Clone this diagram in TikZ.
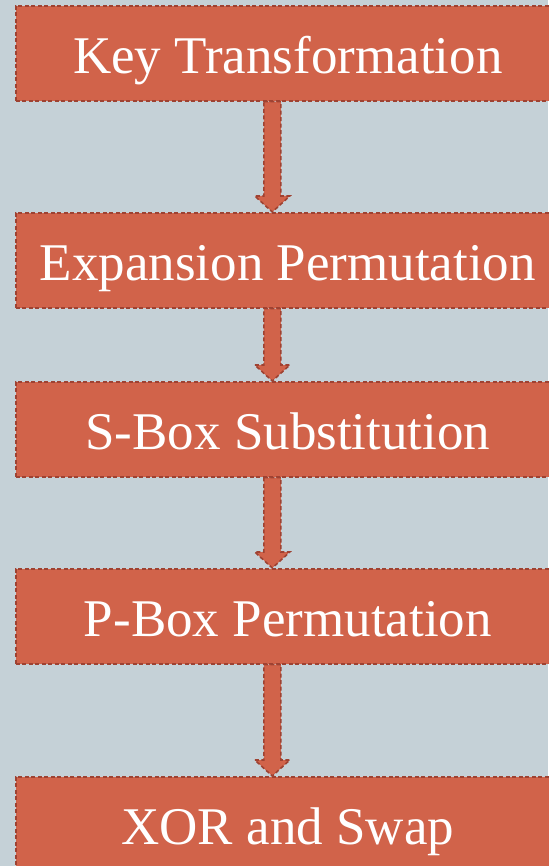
\documentclass[tikz,border=0pt]{standalone}
\usepackage{fontspec}
\newfontfamily\stagefont{Liberation Serif}
\usetikzlibrary{calc}

\definecolor{bgblue}{RGB}{197,209,215}
\definecolor{boxred}{RGB}{209,99,74}
\definecolor{edgered}{RGB}{158,66,50}

\tikzset{
  stage/.style={draw=edgered, fill=boxred, line width=1.6pt,
    dash pattern=on 4pt off 2.5pt, minimum width=544pt, minimum height=95pt,
    inner sep=0pt, text height=40pt, text depth=0pt, anchor=north west,
    text=white, font=\stagefont\fontsize{53}{60}\selectfont},
  flow/.style={draw=edgered, fill=boxred, line width=1.6pt,
    dash pattern=on 4pt off 2.5pt, line join=miter}
}

% block arrow from the bottom of #1 to the top of #2
\newcommand\flowarrow[2]{%
  \draw[flow] ($(#1.south)+(-24pt,0)$) -- ($(#1.south)+(-7pt,0)$)
    -- ($(#2.north)+(-7pt,16pt)$) -- ($(#2.north)+(2pt,16pt)$)
    -- ($(#2.north)+(-15.5pt,0)$) -- ($(#2.north)+(-33pt,16pt)$)
    -- ($(#2.north)+(-24pt,16pt)$) -- cycle;
}

\begin{document}
\begin{tikzpicture}

	\useasboundingbox (0,0) rectangle (548pt,-866pt);
	\fill[bgblue] (0,0) rectangle (548pt,-866pt);

	\node[stage] (key)     at (15pt,-5pt)   {Key Transformation};
	\node[stage] (expand)  at (15pt,-212pt) {Expansion Permutation};
	\node[stage] (sbox)    at (15pt,-381pt) {S-Box Substitution};
	\node[stage] (pbox)    at (15pt,-568pt) {P-Box Permutation};
	\node[stage] (xorswap) at (15pt,-776pt) {XOR and Swap};

	\flowarrow{key}{expand}
	\flowarrow{expand}{sbox}
	\flowarrow{sbox}{pbox}
	\flowarrow{pbox}{xorswap}

\end{tikzpicture}
\end{document}
